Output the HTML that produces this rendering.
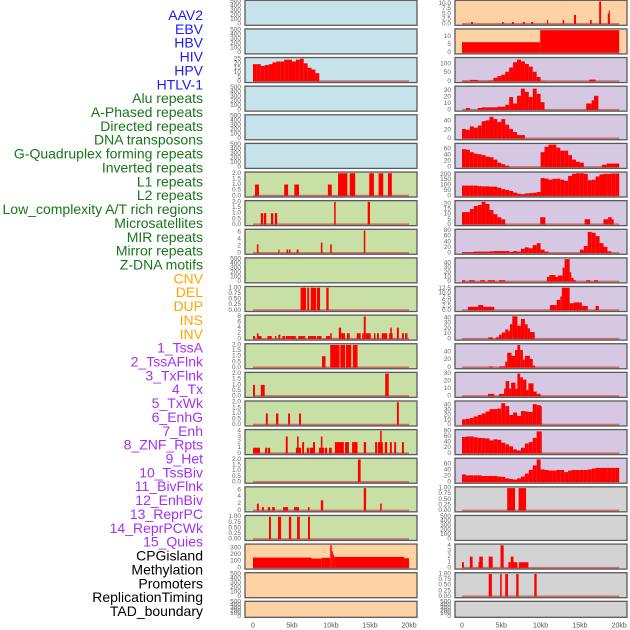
<!DOCTYPE html>
<html><head><meta charset="utf-8"><style>
html,body{margin:0;padding:0;background:#fff;}
svg{display:block;font-family:"Liberation Sans",sans-serif;}
</style></head><body>
<svg id="chart" width="630" height="630" viewBox="0 0 630 630"></svg>
<script>
// ---------- labels ----------
const featureLabels = ["AAV2","EBV","HBV","HIV","HPV","HTLV-1","Alu repeats","A-Phased repeats","Directed repeats","DNA transposons","G-Quadruplex forming repeats","Inverted repeats","L1 repeats","L2 repeats","Low_complexity A/T rich regions","Microsatellites","MIR repeats","Mirror repeats","Z-DNA motifs","CNV","DEL","DUP","INS","INV","1_TssA","2_TssAFlnk","3_TxFlnk","4_Tx","5_TxWk","6_EnhG","7_Enh","8_ZNF_Rpts","9_Het","10_TssBiv","11_BivFlnk","12_EnhBiv","13_ReprPC","14_ReprPCWk","15_Quies","CPGisland","Methylation","Promoters","ReplicationTiming","TAD_boundary"];
const labelGroups = [6,13,5,15,5];
const xTickLabels = ["0","5kb","10kb","15kb","20kb"];
const xTickValues = [0,5,10,15,20];

// ---------- tick label sets ----------
const t500 = ["0","100","200","300","400","500"];
const t25 = ["0","5","10","15","20","25"];
const t2 = ["0.0","0.5","1.0","1.5","2.0"];
const t6 = ["0","2","4","6"];
const t1 = ["0.00","0.25","0.50","0.75","1.00"];
const t8 = ["0","2","4","6","8"];
const t4 = ["0","1","2","3","4"];
const t300 = ["0","100","200","300"];

// ---------- left column data (segments [startKb,endKb,value] or bins) ----------
const hivBins = [19,19,17,18,19,21,22,22,24,24,22,24,25,20,15,13,9];
const l6Segs = [[0.26,0.77,1],[4.0,4.5,1],[5.3,5.9,1],[9.6,10.1,1],[10.9,12.1,2],[12.4,13.1,2],[14.9,15.5,2],[16.1,16.7,2],[17.3,17.8,2]];
const l7Segs = [[1.0,1.3,1],[1.4,1.7,1],[2.3,2.6,1],[2.8,3.1,1],[10.4,10.6,2],[14.7,15.0,2]];
const l8Segs = [[0.5,0.7,2.5],[3.25,3.4,1],[4.3,4.5,1],[4.6,4.8,1],[5.6,5.85,1],[8.7,8.9,3],[9.9,10.1,2.5],[14.2,14.4,6.5]];
const l10Segs = [[6.1,6.8,1],[6.95,7.2,1],[7.4,8.1,1],[8.2,8.6,1],[9.4,9.7,1]];
const l11Segs = [[0,0.26,1],[0.5,0.7,2],[0.7,1.1,1],[1.85,2.4,1],[2.8,3.0,1],[3.25,3.5,1.5],[3.75,4.1,1],[4.2,5.5,1],[5.8,6.7,1],[7.05,8.1,1],[8.2,8.8,1],[9.35,9.9,1],[9.9,10.1,2],[11.0,11.3,4],[11.3,11.8,2],[12.05,12.4,2],[13.3,13.8,2],[14.0,14.2,2],[14.2,14.45,8],[14.45,15.1,2],[15.5,15.7,2],[15.9,16.15,2],[16.5,17.2,2],[17.45,17.9,2],[17.6,17.8,4],[18.45,18.7,4],[19.1,19.35,2],[19.5,19.8,2]];
const l12Segs = [[8.85,9.3,1],[9.9,11.1,2],[11.2,11.8,2],[11.9,12.6,2],[12.8,13.4,2]];
const l13Segs = [[0,0.25,1],[1.0,1.5,1],[16.95,17.4,2]];
const l14Segs = [[1.65,1.9,1],[2.95,3.25,1],[4.5,4.75,1],[5.9,6.15,1],[18.45,18.7,2]];
const l15Segs = [[0,0.9,1],[1.55,1.8,1],[1.9,2.2,1],[4.2,4.45,3],[5.5,6.15,1],[5.65,5.85,3],[6.3,6.55,2],[6.9,7.2,1],[7.3,7.95,1],[7.7,7.95,2],[8.45,9.1,1],[8.7,8.9,3],[9.2,9.5,1],[9.75,10.1,1],[10.5,11.65,2],[11.8,12.3,2],[12.7,13.4,2],[14.2,14.5,2],[15.65,15.9,2],[16.0,16.65,2],[16.3,16.5,4],[16.9,17.2,2],[17.55,17.8,2],[18.1,18.35,2],[19.1,19.35,2]];
const l16Segs = [[13.45,13.8,2]];
const l17Segs = [[0.5,0.75,2],[1.15,1.4,1],[1.9,2.2,1],[2.45,2.8,1],[3.85,4.5,1],[5.25,5.9,1],[7.05,7.25,1],[8.7,9.0,3],[14.2,14.5,6.5],[16.3,16.5,2]];
const l18Segs = [[2.05,2.3,1],[3.2,3.6,1],[4.6,4.9,1],[5.65,6.0,1],[7.05,7.3,1]];
const l19Segs = [[0,7.5,155],[7.5,8.8,140],[8.8,9.9,150],[9.9,10.1,340],[10.1,10.25,250],[10.25,10.4,200],[10.4,19.4,165],[19.4,20,145]];

// ---------- right column data ----------
const r0Segs = [[1.15,1.4,1],[5.1,5.3,1],[6.35,6.6,1],[7.75,8.0,1],[8.8,9.05,1],[10.8,10.95,2],[12.8,13.0,2],[14.25,14.5,4.5],[16.3,16.5,2],[17.45,17.7,11],[18.55,18.8,5],[18.65,18.8,6.5]];
const r1Segs = [[0,9.95,6.5],[9.95,20,14]];
const r2Bins = [3,3,8,8,3,3,3,5,20,30,38,55,80,110,125,115,100,85,55,25,3];
const r2Segs = [[16.2,17.0,10]];
const r3Bins = [0,3,0,0,3,4,4,4,4,5,5,8,20,10,22,33,28,20,33,25,12];
const r3Segs = [[15.8,16.5,10],[16.5,16.8,15],[16.8,17.35,22]];
const r4Bins = [22,20,28,25,30,40,42,50,45,38,45,32,22,15,8,8];
const r5BinsA = [60,58,50,45,43,40,35,33,25,15,10,5];
const r5BinsB = [50,68,75,75,65,55,55,40,25,18,15];
const r5Segs = [[17.8,18.4,8],[18.4,20,12]];
const r6Bins = [95,95,95,95,90,88,88,85,85,75,62,55,45,30,20,15,22,25,28,35,165,160,150,158,160,150,140,185,205,210,210,205,145,150,180,200,205,205,208,208];
const r7Bins = [12,12,15,18,19,22,20,14,10,7,5];
const r7Segs = [[9.95,10.6,7],[15.6,16.3,5],[18.0,18.6,5],[18.6,19.05,7],[19.05,19.3,5]];
const r8BinsA = [3,3,3,5,5,5,5,6,7,7,7,7,4,7,5,15,20,17,28,35,12,5];
const r8BinsB = [12,25,75,72,60,35,22,6];
const r9Segs = [[0,0.4,3],[0.9,1.6,3],[2.3,2.9,3],[3.3,4.2,3],[4.7,5.5,3],[10.8,11.1,10],[11.1,11.9,14],[11.9,12.2,10],[12.2,12.8,13],[12.8,13.05,30],[13.05,13.7,48],[13.7,13.9,20],[13.9,14.2,8],[14.2,14.5,3],[15.8,16.3,3],[16.8,17.3,3]];
const r10Segs = [[0.75,2.05,2],[2.05,2.7,3],[2.7,4.1,2],[11.2,12.05,3],[12.05,12.5,6],[12.5,12.7,8],[12.7,13.7,13],[13.7,14.2,4],[14.2,15.25,4.5],[15.25,16.0,2.5],[17.0,17.4,2.5]];
const r11Segs = [[3.35,3.9,3],[4.3,4.7,3],[4.7,5.05,8],[5.05,5.5,12],[5.5,5.9,18],[5.9,6.1,15],[6.1,6.4,28],[6.4,7.05,43],[7.05,7.5,25],[7.5,8.0,38],[8.0,8.35,28],[8.35,8.65,20],[8.65,9.25,13]];
const r12Segs = [[3.5,3.9,3],[4.75,5.5,3],[5.5,5.75,15],[5.75,6.3,38],[6.3,6.75,30],[6.75,7.05,45],[7.05,7.4,58],[7.4,7.75,45],[7.75,8.0,20],[8.0,8.65,30],[8.65,9.0,22],[9.0,9.3,5]];
const r13Segs = [[3.3,4.1,3],[4.7,5.35,3],[5.35,5.55,10],[5.55,6.0,20],[6.0,6.25,10],[6.25,6.8,18],[6.8,7.05,10],[7.05,7.4,30],[7.4,7.75,25],[7.75,8.2,22],[8.2,8.45,8],[8.45,9.1,17],[9.1,9.5,6],[9.5,10.0,3]];
const r14Bins = [11,12,14,17,20,23,27,32,32,33,44,38,20,25,18,28,27,26,42,40];
const r14Segs = [[10.0,10.15,38]];
const r15Bins = [58,60,60,57,55,54,53,46,50,48,38,32,25,14,10,20,35,40,55,78];
const r15Segs = [[10.0,10.15,78]];
const r16Bins = [25,22,22,22,22,20,20,20,20,18,17,12,10,8,12,18,28,40,55,75,42,40,38,38,40,40,33,38,40,40,40,40,42,45,47,47,47,47,47,47];
const r17Segs = [[5.75,6.75,1],[7.2,8.15,1]];
const r19Segs = [[0,0.25,1],[1.0,1.35,2],[2.1,2.2,1],[2.2,2.65,2],[3.4,3.9,2],[4.9,5.3,4],[5.9,6.2,1],[6.2,6.55,2],[6.55,7.05,1],[7.25,8.45,1]];
const r20Segs = [[3.4,3.8,1],[4.85,5.05,1],[5.5,5.85,1],[6.9,7.2,1],[9.2,9.5,1]];

function bins(start, vals){ return vals.map((v,i)=>[start+i*0.5, start+i*0.5+0.5, v]); }

const BLUE="#c6e2ea", GREEN="#c8e0a6", ORANGE="#fed2a2", PURPLE="#d6c7e2", GREY="#d3d3d3";
const panels = [
 // left column
 {c:0,r:0,bg:BLUE,ticks:t500,ymax:500,d:[]},
 {c:0,r:1,bg:BLUE,ticks:t500,ymax:500,d:[]},
 {c:0,r:2,bg:BLUE,ticks:t25,ymax:25,d:bins(0,hivBins)},
 {c:0,r:3,bg:BLUE,ticks:t500,ymax:500,d:[]},
 {c:0,r:4,bg:BLUE,ticks:t500,ymax:500,d:[]},
 {c:0,r:5,bg:BLUE,ticks:t500,ymax:500,d:[]},
 {c:0,r:6,bg:GREEN,ticks:t2,ymax:2,d:l6Segs},
 {c:0,r:7,bg:GREEN,ticks:t2,ymax:2,d:l7Segs},
 {c:0,r:8,bg:GREEN,ticks:t6,ymax:6.5,d:l8Segs},
 {c:0,r:9,bg:GREEN,ticks:t500,ymax:500,d:[]},
 {c:0,r:10,bg:GREEN,ticks:t1,ymax:1,d:l10Segs},
 {c:0,r:11,bg:GREEN,ticks:t8,ymax:8,d:l11Segs},
 {c:0,r:12,bg:GREEN,ticks:t2,ymax:2,d:l12Segs},
 {c:0,r:13,bg:GREEN,ticks:t2,ymax:2,d:l13Segs},
 {c:0,r:14,bg:GREEN,ticks:t2,ymax:2,d:l14Segs},
 {c:0,r:15,bg:GREEN,ticks:t4,ymax:4,d:l15Segs},
 {c:0,r:16,bg:GREEN,ticks:t2,ymax:2,d:l16Segs},
 {c:0,r:17,bg:GREEN,ticks:t6,ymax:6.5,d:l17Segs},
 {c:0,r:18,bg:GREEN,ticks:t1,ymax:1,d:l18Segs},
 {c:0,r:19,bg:ORANGE,ticks:t300,ymax:340,d:l19Segs},
 {c:0,r:20,bg:ORANGE,ticks:t500,ymax:500,d:[]},
 {c:0,r:21,bg:ORANGE,ticks:t500,ymax:500,d:[]},
 // right column
 {c:1,r:0,bg:ORANGE,ticks:["0.0","2.5","5.0","7.5","10.0"],ymax:11,d:r0Segs},
 {c:1,r:1,bg:ORANGE,ticks:["0","5","10"],ymax:14,d:r1Segs},
 {c:1,r:2,bg:PURPLE,ticks:["0","50","100"],ymax:130,d:bins(0,r2Bins).concat(r2Segs)},
 {c:1,r:3,bg:PURPLE,ticks:["0","10","20","30"],ymax:35,d:bins(0,r3Bins).concat(r3Segs)},
 {c:1,r:4,bg:PURPLE,ticks:["0","20","40"],ymax:52,d:bins(0,r4Bins)},
 {c:1,r:5,bg:PURPLE,ticks:["0","20","40","60"],ymax:75,d:bins(0,r5BinsA).concat(bins(10,r5BinsB),r5Segs)},
 {c:1,r:6,bg:PURPLE,ticks:["0","50","100","150","200"],ymax:210,d:bins(0,r6Bins)},
 {c:1,r:7,bg:PURPLE,ticks:["0","5","10","15","20"],ymax:22,d:bins(0,r7Bins).concat(r7Segs)},
 {c:1,r:8,bg:PURPLE,ticks:["0","20","40","60","80"],ymax:80,d:bins(0,r8BinsA).concat(bins(15,r8BinsB))},
 {c:1,r:9,bg:PURPLE,ticks:["0","10","20","30","40"],ymax:48,d:r9Segs},
 {c:1,r:10,bg:PURPLE,ticks:["0.0","2.5","5.0","7.5","10.0","12.5"],ymax:13,d:r10Segs},
 {c:1,r:11,bg:PURPLE,ticks:["0","10","20","30","40"],ymax:43,d:r11Segs},
 {c:1,r:12,bg:PURPLE,ticks:["0","20","40"],ymax:58,d:r12Segs},
 {c:1,r:13,bg:PURPLE,ticks:["0","10","20","30"],ymax:30,d:r13Segs},
 {c:1,r:14,bg:PURPLE,ticks:["0","10","20","30","40"],ymax:46,d:bins(0,r14Bins).concat(r14Segs)},
 {c:1,r:15,bg:PURPLE,ticks:["0","20","40","60","80"],ymax:80,d:bins(0,r15Bins).concat(r15Segs)},
 {c:1,r:16,bg:PURPLE,ticks:["0","20","40","60"],ymax:75,d:bins(0,r16Bins)},
 {c:1,r:17,bg:GREY,ticks:t1,ymax:1,d:r17Segs},
 {c:1,r:18,bg:GREY,ticks:t500,ymax:500,d:[]},
 {c:1,r:19,bg:GREY,ticks:t4,ymax:4,d:r19Segs},
 {c:1,r:20,bg:GREY,ticks:t1,ymax:1,d:r20Segs},
 {c:1,r:21,bg:GREY,ticks:t500,ymax:500,d:[]}
];

const NS="http://www.w3.org/2000/svg";
const svg=document.getElementById('chart');
function mk(tag,attrs,parent){const e=document.createElementNS(NS,tag);for(const k in attrs)e.setAttribute(k,attrs[k]);(parent||svg).appendChild(e);return e;}

const colX=[245,455], colW=172, zeroX=[253,462], kbPx=[7.8,7.86];
function xScale(c,kb){return zeroX[c]+kb*kbPx[c];}

// labels
const grpColors=["#1c1cf5","#17761a","#ffa500","#a530f0","#000000"];
const lg=mk('g',{});


let gi=0,gc=0;
featureLabels.forEach((s,i)=>{
  const t=mk('text',{x:203,y:15+i*13.86,'text-anchor':'end','dominant-baseline':'central','font-size':'14',fill:grpColors[gi]},lg);
  t.textContent=s;
  
  
  gc++; if(gc>=labelGroups[gi]){gi++;gc=0;}
});

panels.forEach((p,idx)=>{
  const top=0.3+p.r*28.62, h=(p.r===21)?16:25;
  const g=mk('g',{});
  
  
  const x0=colX[p.c];
  mk('rect',{x:x0,y:top,width:colW,height:h,fill:p.bg},g);
  const yS=v=>top+h-h*0.05-(v/p.ymax)*h*0.9;
  // ticks
  p.ticks.forEach(tl=>{
    const t=mk('text',{x:x0-4,y:yS(parseFloat(tl)),'text-anchor':'end','dominant-baseline':'central','font-size':'6.5',fill:'#666'},g);
    t.textContent=tl;
    
    
  });
  if(p.d.length){
    const bl=mk('rect',{x:xScale(p.c,0),y:yS(0)-1,width:xScale(p.c,20)-xScale(p.c,0),height:2,fill:'#c85050',opacity:'0.75'},g);
    
    
    p.d.forEach(s=>{
      if(s[2]<=0)return;
      const xa=xScale(p.c,s[0]), xb=xScale(p.c,s[1]);
      const b=mk('rect',{x:xa,y:yS(s[2]),width:Math.max(1,xb-xa),height:yS(0)-yS(s[2]),fill:'#ff0000'},g);
      
      
    });
  }
  const fr=mk('rect',{x:x0,y:top,width:colW,height:h,fill:'none',stroke:'#5a5a5a','stroke-width':'1.3'},g);
  
  
});

// x axis labels
[0,1].forEach(c=>{
  xTickValues.forEach((v,i)=>{
    const t=mk('text',{x:xScale(c,v),y:626,'text-anchor':'middle','dominant-baseline':'central','font-size':'7',fill:'#555'});
    t.textContent=xTickLabels[i];
    
    
  });
});
</script>
</body></html>
